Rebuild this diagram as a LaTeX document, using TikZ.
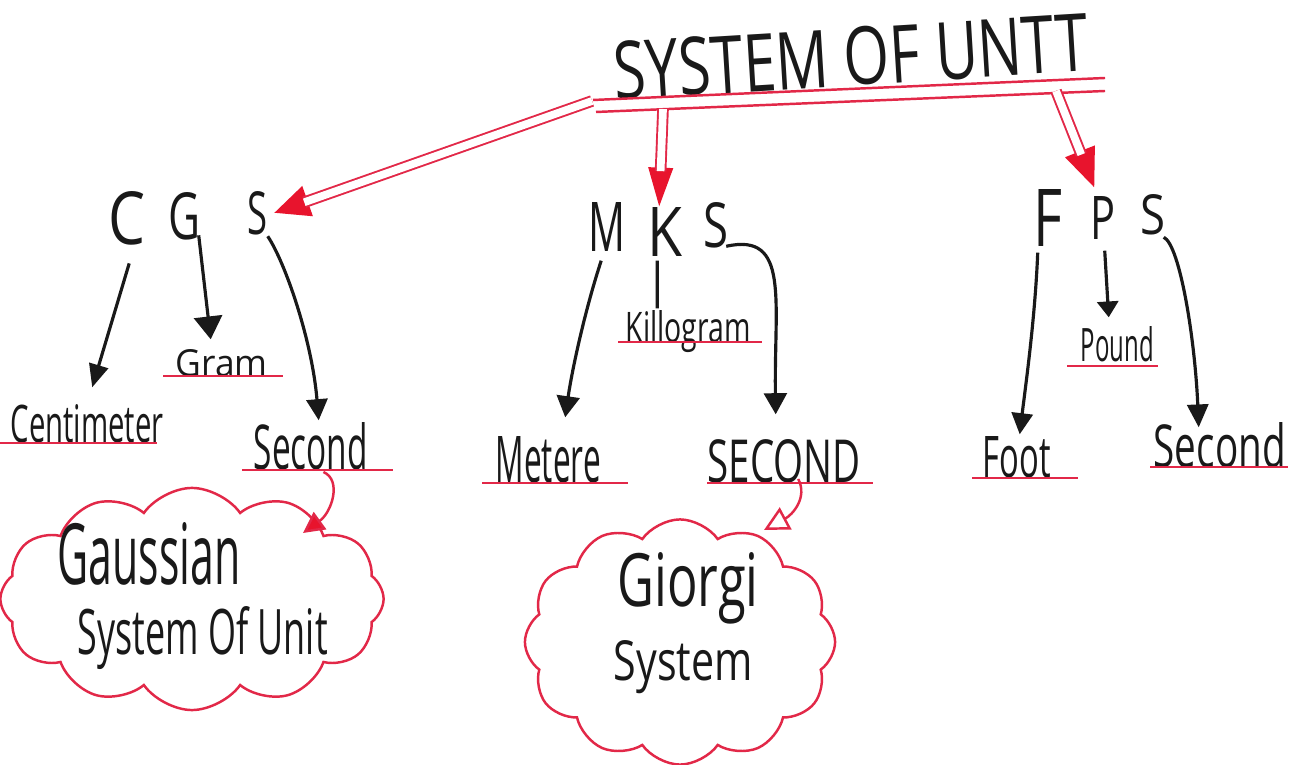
\documentclass[tikz,border=0pt]{standalone}
\usepackage{fontspec}
\setmainfont{Open Sans}
\usepackage{graphicx}
\usetikzlibrary{arrows.meta,calc,shapes.symbols}
\definecolor{ink}{RGB}{25,25,25}
\definecolor{rink}{RGB}{226,40,72}
\definecolor{rhead}{RGB}{232,20,45}
\newlength\pxu \setlength\pxu{0.01cm}
\newcommand\hw[3]{\resizebox{#1\pxu}{#2\pxu}{#3}}
\begin{document}
\begin{tikzpicture}[x=0.01cm,y=-0.01cm,
 lbl/.style={inner sep=0pt,anchor=base west,text=ink},
 arr/.style={draw=ink,line width=0.9pt},
 ul/.style={draw=rink,line width=0.7pt},
 rline/.style={draw=rink,line width=0.7pt},
 dbl/.style={draw=rink,line width=0.55pt,double=white,double distance=2.2pt},
 rtip/.style={draw=rhead,line width=0.55pt},
 cloudy/.style={cloud,draw=rink,line width=0.7pt,cloud puffs=12,cloud puff arc=110,cloud ignores aspect,inner sep=0pt}]
\useasboundingbox[fill=white] (0,0) rectangle (1295,765);

% clouds
\node[cloudy,minimum width=3.83cm,minimum height=2.22cm] (gcloud) at (192,599) {};
\node[cloudy,minimum width=3.1cm,minimum height=2.45cm] (jcloud) at (680,642) {};

% title
\node[lbl,rotate=3.5] (title) at (615,100) {\hw{475}{58}{SYSTEM OF UNTT}};
\draw[ul] (593,100) -- (1105,78);
\draw[ul] (596,112) -- (1105,91);
\coordinate (tA) at (592,101);
\coordinate (tB) at (663,109);
\coordinate (tC) at (1056,91);

% letters
\node[lbl] (c1) at (108,245) {\hw{37}{53}{C}};
\node[lbl] (g1) at (168,240) {\hw{32}{47}{G}};
\node[lbl] (s1) at (247,235) {\hw{20}{43}{S}};
\node[lbl] (m2) at (588,252) {\hw{37}{49}{M}};
\node[lbl] (k2) at (647,257) {\hw{35}{49}{K}};
\node[lbl] (s2) at (703,248) {\hw{25}{45}{S}};
\node[lbl] (f3) at (1033,247) {\hw{29}{57}{F}};
\node[lbl] (p3) at (1090,240) {\hw{25}{43}{P}};
\node[lbl] (s3) at (1140,235) {\hw{25}{40}{S}};

% words
\node[lbl] (cent) at (10,443) {\hw{153}{38}{Centimeter}};
\node[lbl] (gram) at (175,377) {\hw{92}{27}{Gram}};
\node[lbl] (sec1) at (253,470) {\hw{114}{47}{Second}};
\node[lbl] (met) at (495,483) {\hw{105}{46}{Metere}};
\node[lbl] (sec2) at (707,483) {\hw{153}{43}{SECOND}};
\node[lbl] (kil) at (625,343) {\hw{125}{32}{Killogram}};
\node[lbl] (pound) at (1080,362) {\hw{73}{35}{Pound}};
\node[lbl] (foot) at (982,478) {\hw{68}{41}{Foot}};
\node[lbl] (sec3) at (1153,468) {\hw{132}{45}{Second}};
\node[lbl] (gau) at (57,585) {\hw{183}{62}{Gaussian}};
\node[lbl] (sou) at (77,655) {\hw{250}{48}{System Of Unit}};
\node[lbl] (gio) at (617,607) {\hw{141}{54}{Giorgi}};
\node[lbl] (sys) at (613,680) {\hw{139}{40}{System}};

% underlines
\draw[ul] (0,443) -- (157,443);
\draw[ul] (163,376) -- (283,376);
\draw[ul] (242,470) -- (393,470);
\draw[ul] (618,342) -- (762,342);
\draw[ul] (482,483) -- (628,483);
\draw[ul] (707,483) -- (873,483);
\draw[ul] (1067,366) -- (1158,366);
\draw[ul] (972,478) -- (1078,478);
\draw[ul] (1150,467) -- (1288,467);

% black connectors
\draw[arr,-{Triangle[length=6.5pt,width=5.5pt]}] ($(c1.south)+(2,17)$) -- ($(cent.north)+(5,-17)$);
\draw[arr,-{Triangle[length=6.5pt,width=8pt]}] ($(g1.south)+(14,-6)$) -- ($(gram.north)+(-11,-10)$);
\draw[arr,-{Triangle[length=6pt,width=6pt]}] ($(s1.south)+(10,0)$) .. controls (285,262) and (312,340) .. ($(sec1.north)+(8,-2)$);
\draw[arr,-{Triangle[length=6pt,width=6.5pt]}] ($(m2.south)+(-6,8)$) .. controls (585,310) and (572,370) .. ($(met.north)+(17,-19)$);
\draw[arr] ($(k2.south)+(-8,3)$) -- ($(kil.north)+(-31,-2)$);
\draw[arr,-{Triangle[length=6pt,width=6.5pt]}] ($(s2.south)+(10,-3)$) .. controls (790,232) and (774,300) .. ($(sec2.north)+(-8.5,-25)$);
\draw[arr,-{Triangle[length=6pt,width=6pt]}] ($(f3.south)+(-10.5,5)$) .. controls (1035,320) and (1025,390) .. ($(foot.north)+(3,-2)$);
\draw[arr,-{Triangle[length=4.5pt,width=6pt]}] ($(p3.south)+(1.5,10)$) -- ($(pound.north)+(-8.5,-9)$);
\draw[arr,-{Triangle[length=6.5pt,width=6pt]}] ($(s3.south)+(10.5,1)$) .. controls (1180,245) and (1195,340) .. ($(sec3.north)+(-21,5)$);

% red double arrows from the title
\coordinate (hA) at ($(s1.east)+(6,-1)$);
\coordinate (hB) at ($(k2.north)+(-6,-1)$);
\coordinate (hC) at ($(p3.north)+(-9,-9)$);
\draw[rtip,-{Triangle[length=10pt,width=9pt,fill=rhead]}] (tA) -- (hA);
\draw[dbl,shorten >=9pt] (tA) -- (hA);
\draw[rtip,-{Triangle[length=11pt,width=7pt,fill=rhead]}] (tB) -- (hB);
\draw[dbl,shorten >=10pt] (tB) -- (hB);
\draw[rtip,-{Triangle[length=11pt,width=9pt,fill=rhead]}] (tC) -- (hC);
\draw[dbl,shorten >=10pt] (tC) -- (hC);

% red arrows to the clouds
\draw[rline,-{Triangle[length=6pt,width=6pt,fill=rhead]}] ($(sec1.base east)+(-45,2)$) .. controls (342,480) and (332,512) .. ($(gcloud.center)+(111,-66)$);
\draw[rline,-{Triangle[open,length=7pt,width=7pt]}] ($(sec2.base)+(14,-4)$) .. controls (808,498) and (792,515) .. ($(jcloud.center)+(84,-112)$);
\end{tikzpicture}
\end{document}
